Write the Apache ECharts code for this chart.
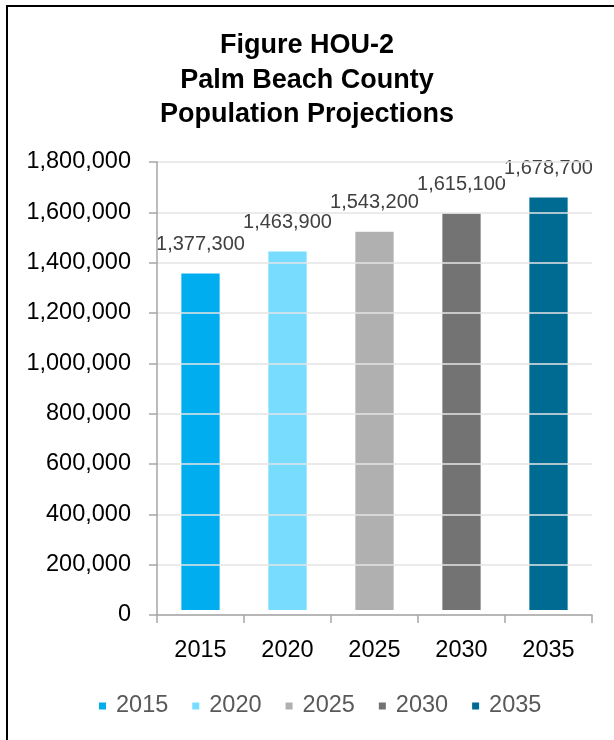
<!DOCTYPE html>
<html>
<head>
<meta charset="utf-8">
<title>Palm Beach County Population Projections</title>
<script src="https://cdn.jsdelivr.net/npm/echarts@6/dist/echarts.min.js"></script>
<style>
  html, body { margin: 0; padding: 0; background: #ffffff; }
  #chart { width: 614px; height: 740px; }
</style>
</head>
<body>
<div id="chart"></div>
<script>
// Projection years (x-axis categories and legend entries)
const years = ['2015', '2020', '2025', '2030', '2035'];
// Projected county population for each year
const population = [1377300, 1463900, 1543200, 1615100, 1678700];
// One fill colour per year
const yearColors = ['#00aeef', '#78dcff', '#b0b0b0', '#737373', '#006b92'];

const FONT = '"Liberation Sans", Arial, sans-serif';
const fmt = v => Number(v).toLocaleString('en-US');

// Each year is its own series so the legend lists it; stacking keeps the bars centred.
// A white border gives every bar a thin halo that breaks the gridlines around it.
const series = years.map((year, i) => ({
  name: year,
  type: 'bar',
  stack: 'population',
  barWidth: '55.5%',
  data: years.map((_, j) => (j === i ? population[i] : null)),
  itemStyle: {
    color: yearColors[i],
    borderColor: '#ffffff',
    borderWidth: 5
  },
  label: {
    show: true,
    position: 'top',
    distance: 14,
    formatter: p => fmt(p.value),
    fontFamily: FONT,
    fontSize: 20,
    color: '#404040',
    backgroundColor: '#ffffff',
    padding: [0, 2]
  }
}));

const chart = echarts.init(document.getElementById('chart'), null, { renderer: 'canvas' });

chart.setOption({
  animation: false,
  backgroundColor: '#ffffff',
  title: {
    text: 'Figure HOU-2\nPalm Beach County\nPopulation Projections',
    left: 'center',
    top: 23,
    padding: [5, 0, 5, 14],
    textStyle: {
      fontFamily: FONT,
      fontSize: 27,
      fontWeight: 'bold',
      lineHeight: 34.7,
      color: '#000000'
    }
  },
  legend: {
    data: years,
    left: 92,
    top: 689,
    icon: 'rect',
    itemWidth: 9,
    itemHeight: 9,
    itemGap: 22,
    textStyle: {
      fontFamily: FONT,
      fontSize: 23.5,
      color: '#595959',
      padding: [0, 0, 0, 4]
    }
  },
  grid: {
    left: 157,
    top: 162,
    width: 435,
    height: 453,
    containLabel: false
  },
  xAxis: {
    type: 'category',
    data: years,
    z: 5,
    axisLine: { show: true, lineStyle: { color: '#a6a6a6', width: 1.5 } },
    axisTick: { show: true, length: 8, lineStyle: { color: '#a6a6a6', width: 1.5 } },
    axisLabel: {
      margin: 24,
      fontFamily: FONT,
      fontSize: 23.5,
      color: '#000000'
    }
  },
  yAxis: {
    type: 'value',
    min: 0,
    max: 1800000,
    interval: 200000,
    z: 5,
    axisLine: { show: true, lineStyle: { color: '#a6a6a6', width: 1.5 } },
    axisTick: { show: true, length: 8, lineStyle: { color: '#a6a6a6', width: 1.5 } },
    axisLabel: {
      margin: 26,
      formatter: v => fmt(v),
      fontFamily: FONT,
      fontSize: 23.5,
      color: '#000000'
    },
    splitLine: { show: true, lineStyle: { color: '#e4e4e4', width: 1.5 } }
  },
  graphic: [{
    type: 'rect',
    silent: true,
    z: 100,
    shape: { x: 7, y: 6, width: 700, height: 800 },
    style: { fill: 'none', stroke: '#000000', lineWidth: 2 }
  }],
  series: series
});
</script>
</body>
</html>
